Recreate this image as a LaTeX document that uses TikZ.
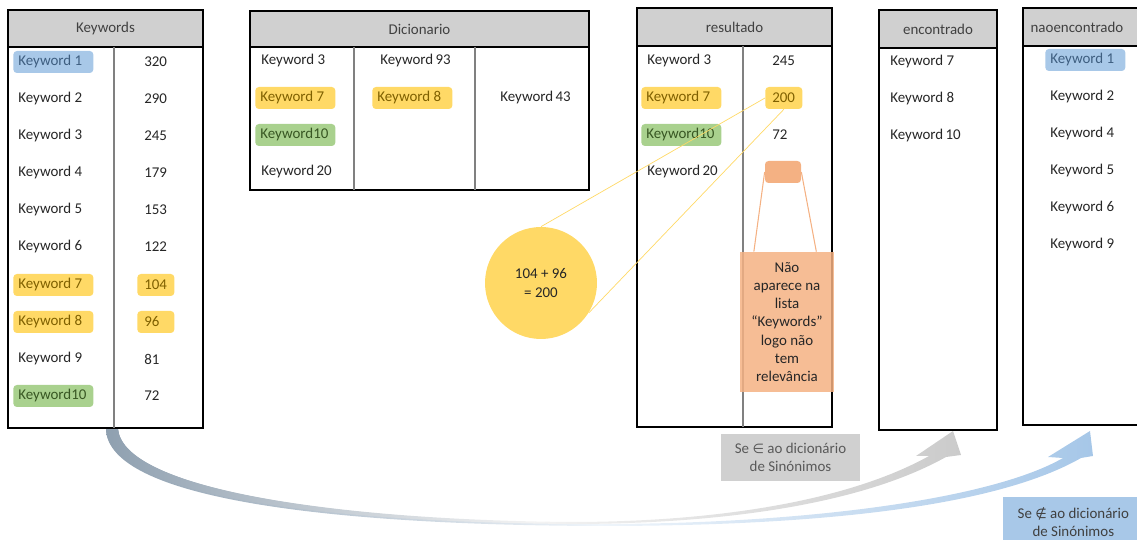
\documentclass[tikz,border=0pt]{standalone}
\usepackage{fontspec}
\setmainfont{Carlito}
\newfontfamily\mysymfont{DejaVu Sans}
\usetikzlibrary{calc}

\definecolor{hdrgray}{RGB}{208,208,208}
\definecolor{hdrtext}{RGB}{64,64,64}
\definecolor{labeltext}{RGB}{89,89,89}
\definecolor{textdark}{RGB}{38,38,38}
\definecolor{divgray}{RGB}{128,128,128}
\definecolor{kwblue}{RGB}{168,200,232}
\definecolor{kwbluetext}{RGB}{62,94,128}
\definecolor{kwyellow}{RGB}{255,217,102}
\definecolor{kwyellowtext}{RGB}{127,96,0}
\definecolor{kwgreen}{RGB}{169,209,142}
\definecolor{kwgreentext}{RGB}{56,87,35}
\definecolor{salmon}{RGB}{244,177,131}
\definecolor{arrowstart}{RGB}{143,160,176}
\definecolor{arrowgray}{RGB}{203,203,203}
\definecolor{arrowblue}{RGB}{166,199,232}

\begin{document}
\begin{tikzpicture}[x=0.02cm,y=-0.02cm,
	every node/.style={font=\mytextfont,text=textdark},
	header/.style={fill=hdrgray,draw=black,line width=0.8pt},
	tablebox/.style={draw=black,line width=0.8pt},
	divider/.style={draw=divgray,line width=0.6pt},
	hdrlabel/.style={text=hdrtext},
	kwcell/.style={anchor=west,inner xsep=0.1cm,inner ysep=0pt,minimum height=0.44cm,rounded corners=2pt,
		execute at begin node={\hbox to 1.4cm\bgroup},execute at end node={\hfil\egroup}},
	numcell/.style={anchor=west,inner xsep=0.14cm,inner ysep=0pt,minimum height=0.44cm,rounded corners=2pt,
		execute at begin node={\hbox to 0.46cm\bgroup},execute at end node={\hfil\egroup}},
	nohl/.style={},
	hlblue/.style={fill=kwblue,text=kwbluetext},
	hlyellow/.style={fill=kwyellow,text=kwyellowtext},
	hlgreen/.style={fill=kwgreen,text=kwgreentext},
	sumcircle/.style={circle,fill=kwyellow,minimum size=2.24cm,inner sep=0pt,align=center},
	salbox/.style={fill=salmon,rounded corners=2pt,minimum width=0.72cm,minimum height=0.44cm,inner sep=0pt},
	notebox/.style={fill=salmon,fill opacity=0.85,text opacity=1,minimum width=1.88cm,minimum height=2.8cm,align=center,inner sep=0pt},
	yline/.style={draw=kwyellow,line width=0.4pt},
	sline/.style={draw=salmon,line width=0.6pt},
	graylabel/.style={fill=hdrgray,text=labeltext,minimum width=2.78cm,minimum height=0.94cm,align=center,inner sep=0pt},
	bluelabel/.style={fill=kwblue,text=hdrtext,minimum width=2.8cm,minimum height=1cm,align=center,inner sep=0pt},
	grayarrow/.style={left color=arrowstart,right color=arrowgray,middle color=arrowgray!22},
	bluearrow/.style={left color=arrowstart,right color=arrowblue,middle color=arrowblue!18}
	]
	\newcommand{\mytextfont}{\fontsize{8.5}{10.4}\selectfont}
	\newcommand{\mysym}[1]{{\mysymfont\fontsize{7.5}{10.4}\selectfont #1}}
	\useasboundingbox (0,0) rectangle (1137,540);
	\clip (0,0) rectangle (1137,540);
	%Curved arrows at the bottom
	\shade[bluearrow] (106,429) .. controls (108,499) and (330,525) .. (600,526)
		.. controls (800,526) and (990,510) .. (1081,458)
		-- (1093,456) -- (1090,431) -- (1048,457) -- (1063,458)
		.. controls (990,500) and (800,524) .. (600,524)
		.. controls (340,522) and (124,490) .. (118,429) -- cycle;
	\shade[grayarrow] (106,429) .. controls (108,497) and (330,522) .. (570,524)
		.. controls (720,524) and (860,505) .. (946,457)
		-- (961,455) -- (953,431) -- (916,456) -- (929,456)
		.. controls (850,500) and (720,522) .. (570,522)
		.. controls (340,520) and (124,490) .. (118,429) -- cycle;
	%Keywords table
	\draw[header] (8,10) rectangle (203,47);
	\draw[tablebox] (8,47) rectangle (203,428);
	\draw[divider] (114,47) -- (114,428);
	\node[hdrlabel] (hdrkw) at (105.5,28.5) {Keywords};
	\foreach \y/\k/\s/\v/\t [count=\i] in {
		62/Keyword 1/hlblue/320/nohl,
		99/Keyword 2/nohl/290/nohl,
		136/Keyword 3/nohl/245/nohl,
		173/Keyword 4/nohl/179/nohl,
		210/Keyword 5/nohl/153/nohl,
		247/Keyword 6/nohl/122/nohl,
		285/Keyword 7/hlyellow/104/hlyellow,
		322/Keyword 8/hlyellow/96/hlyellow,
		359/Keyword 9/nohl/81/nohl,
		396/Keyword10/hlgreen/72/nohl} {
		\node[kwcell,\s] (kw\i) at (13,\y) {\k};
		\node[numcell,\t] (val\i) at (137,\y) {\v};
	}
	%Dicionario table
	\draw[header] (250,11) rectangle (589,47);
	\draw[tablebox] (250,47) rectangle (589,190);
	\draw[divider] (354,47) -- (354,190);
	\draw[divider] (475,47) -- (475,190);
	\node[hdrlabel] (hdrdic) at (419.5,29) {Dicionario};
	\node[kwcell] (dic3) at (256,61) {Keyword 3};
	\node[kwcell,hlyellow] (dic7) at (255,98) {Keyword 7};
	\node[kwcell,hlgreen] (dic10) at (255,135) {Keyword10};
	\node[kwcell] (dic20) at (256,172) {Keyword 20};
	\node[kwcell] (dic93) at (375,61) {Keyword 93};
	\node[kwcell,hlyellow] (dic8) at (372,98) {Keyword 8};
	\node[kwcell] (dic43) at (495,98) {Keyword 43};
	%resultado table
	\draw[header] (637,8) rectangle (832,46);
	\draw[tablebox] (637,46) rectangle (832,427);
	\draw[divider] (743,46) -- (743,427);
	\node[hdrlabel] (hdrres) at (734.5,27) {resultado};
	\node[kwcell] (res3) at (642,61) {Keyword 3};
	\node[kwcell,hlyellow] (res7) at (641,98) {Keyword 7};
	\node[kwcell,hlgreen] (res10) at (641,135) {Keyword10};
	\node[kwcell] (res20) at (642,172) {Keyword 20};
	\node[numcell] (r245) at (765,61) {245};
	\node[numcell,hlyellow] (r200) at (765,98) {200};
	\node[numcell] (r72) at (765,135) {72};
	\node[salbox] (rempty) at (783,172) {};
	%encontrado table
	\draw[header] (879,10) rectangle (997,48);
	\draw[tablebox] (879,48) rectangle (997,430);
	\node[hdrlabel] (hdrenc) at (938,29) {encontrado};
	\node[kwcell] (enc7) at (885,62) {Keyword 7};
	\node[kwcell] (enc8) at (885,99) {Keyword 8};
	\node[kwcell] (enc10) at (885,136) {Keyword 10};
	%naoencontrado table
	\draw[header] (1023,8) rectangle (1160,46);
	\draw[tablebox] (1023,46) rectangle (1160,425);
	\node[hdrlabel] (hdrnao) at (1077,27) {naoencontrado};
	\foreach \y/\k/\s [count=\i] in {
		60/Keyword 1/hlblue,
		97/Keyword 2/nohl,
		134/Keyword 4/nohl,
		171/Keyword 5/nohl,
		208/Keyword 6/nohl,
		245/Keyword 9/nohl} {
		\node[kwcell,\s] (nao\i) at (1045,\y) {\k};
	}
	%Sum circle and its lines
	\node[sumcircle] (circ) at (541,283) {104 + 96\\= 200};
	\draw[yline] (circ.north) -- (r200.west);
	\draw[yline] (circ.-32) -- (r200.south);
	%Note for Keyword 20
	\node[notebox] (note) at (787,322) {Não\\aparece na\\lista\\“Keywords”\\logo não\\tem\\relevância};
	\draw[sline] (rempty.west) -- ($(note.north west)!0.15!(note.north east)$);
	\draw[sline] (rempty.east) -- ($(note.north west)!0.81!(note.north east)$);
	%Labels of the arrows
	\node[graylabel] (lblin) at (790.5,457.5) {Se \mysym{∈} ao dicionário\\de Sinónimos};
	\node[bluelabel,anchor=north west] (lblout) at (1003,497) {Se \mysym{∉} ao dicionário\\de Sinónimos};
\end{tikzpicture}
\end{document}
